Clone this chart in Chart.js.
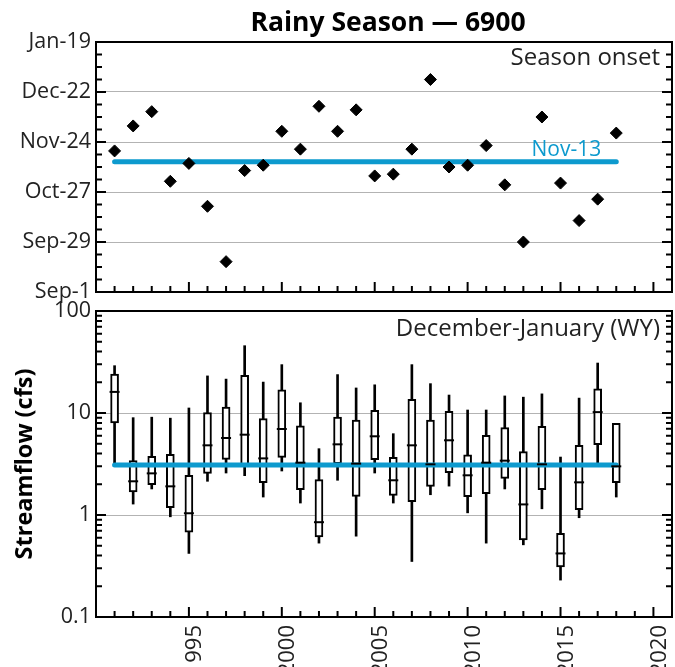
<!DOCTYPE html>
<html>
<head>
<meta charset="utf-8">
<script src="https://cdn.jsdelivr.net/npm/chart.js@4.4.0/dist/chart.umd.min.js"></script>
<style>
  body { margin: 0; background: #fff; overflow: hidden; }
  canvas { position: absolute; left: 0; }
</style>
</head>
<body>
<canvas id="onsetChart" width="675" height="310" style="top:0"></canvas>
<canvas id="flowChart" width="675" height="377" style="top:290px"></canvas>
<script>
// datos
var years = [1991, 1992, 1993, 1994, 1995, 1996, 1997, 1998, 1999, 2000,
             2001, 2002, 2003, 2004, 2005, 2006, 2007, 2008, 2009, 2010,
             2011, 2012, 2013, 2014, 2015, 2016, 2017, 2018];

// inicio de temporada, en dias desde el 1 de septiembre
var onsetDays = [79, 93, 101, 62, 72, 48, 17, 68, 71, 90,
                 80, 104, 90, 102, 65, 66, 80, 119, 70, 71,
                 82, 60, 28, 98, 61, 40, 52, 89];
var onsetTickLabels = ['Sep-1', 'Sep-29', 'Oct-27', 'Nov-24', 'Dec-22', 'Jan-19'];
var onsetMedian = 73;
var onsetMedianLabel = 'Nov-13';

// caudal diciembre-enero (cfs)
var flowMin = [3.1, 1.28, 1.8, 0.96, 0.42, 2.14, 2.58, 2.43, 1.5, 2.7,
               1.31, 0.53, 2.19, 0.62, 2.58, 1.31, 0.35, 1.58, 1.92, 1.05,
               0.53, 1.8, 0.51, 1.15, 0.23, 0.94, 3.16, 1.5];
var flowQ1 = [8.0, 1.68, 1.98, 1.18, 0.68, 2.56, 3.51, 3.07, 2.07, 3.67,
              1.77, 0.61, 3.19, 1.52, 3.49, 1.56, 1.35, 1.91, 2.6, 1.51,
              1.62, 2.29, 0.57, 1.77, 0.31, 1.13, 4.89, 2.07];
var flowMedian = [16.1, 2.14, 2.56, 1.91, 1.04, 4.82, 5.69, 6.13, 3.59, 6.97,
                  3.26, 0.85, 4.93, 3.19, 5.91, 2.19, 4.82, 3.14, 5.4, 2.45,
                  3.26, 3.41, 1.27, 3.14, 0.42, 2.09, 10.2, 3.0];
var flowQ3 = [24.1, 3.41, 3.76, 3.93, 2.45, 10.1, 11.4, 23.4, 8.8, 16.9,
              7.5, 2.22, 9.1, 8.5, 10.6, 3.67, 13.6, 8.5, 10.4, 3.9,
              6.04, 7.18, 4.18, 7.4, 0.66, 4.82, 17.3, 7.9];
var flowMax = [29.1, 9.0, 9.1, 8.9, 11.2, 23.1, 21.5, 45.7, 20.1, 29.8,
               12.6, 4.47, 23.8, 17.6, 18.9, 6.27, 29.8, 19.4, 15.0, 10.7,
               10.7, 14.7, 14.3, 15.4, 3.7, 14.0, 30.9, 7.9];
var flowOverallMedian = 3.1;
var flowTicks = [0.1, 1, 10, 100];
var yearTicks = [1995, 2000, 2005, 2010, 2015, 2020];

var BLUE = '#0d9ace';
var FONT = "'Open Sans', 'Noto Sans', sans-serif";
Chart.defaults.font.family = FONT;
Chart.defaults.color = '#222';

// marco, marcas hacia dentro y textos de cada panel
var panelDecor = {
  id: 'panelDecor',
  afterDraw: function (chart, args, opts) {
    var ctx = chart.ctx, a = chart.chartArea;
    var xs = chart.scales.x, ys = chart.scales.y;
    ctx.save();
    ctx.strokeStyle = '#000';
    ctx.lineWidth = 2;
    function hTick(py, len) {
      ctx.beginPath();
      ctx.moveTo(a.left, py); ctx.lineTo(a.left + len, py);
      ctx.moveTo(a.right, py); ctx.lineTo(a.right - len, py);
      ctx.stroke();
    }
    opts.yMinor.forEach(function (v) { hTick(ys.getPixelForValue(v), 6); });
    opts.yMajor.forEach(function (v) { hTick(ys.getPixelForValue(v), 10); });
    for (var yr = 1991; yr < xs.max; yr++) {
      var px = xs.getPixelForValue(yr);
      var len = yr % 5 === 0 ? 10 : 6;
      ctx.beginPath();
      ctx.moveTo(px, a.bottom); ctx.lineTo(px, a.bottom - len);
      ctx.stroke();
    }
    ctx.strokeRect(a.left, a.top, a.right - a.left, a.bottom - a.top);

    ctx.fillStyle = '#222';
    ctx.font = '24px ' + FONT;
    ctx.textAlign = 'right';
    ctx.textBaseline = 'middle';
    ctx.fillText(opts.text, a.right - 12, a.top + opts.textDy);

    if (opts.title) {
      ctx.fillStyle = '#000';
      ctx.font = 'bold 26.5px ' + FONT;
      ctx.textAlign = 'center';
      ctx.fillText(opts.title, (a.left + a.right) / 2 + 4, 23);
    }
    if (opts.medianLabel) {
      ctx.fillStyle = BLUE;
      ctx.font = '21px ' + FONT;
      ctx.textAlign = 'right';
      ctx.textBaseline = 'alphabetic';
      ctx.fillText(opts.medianLabel, xs.getPixelForValue(years[years.length - 1]) - 15,
                   ys.getPixelForValue(onsetMedian) - 6);
    }
    ctx.restore();
  }
};

function fixedWidth(scale) { scale.width = 96; }

// Panel superior: inicio de la temporada
var onsetMinor = [];
for (var d = 0; d <= 140; d += 7) onsetMinor.push(d);

var onsetChart = new Chart(document.getElementById('onsetChart'), {
  type: 'scatter',
  data: {
    datasets: [{
      data: years.map(function (y, i) { return { x: y, y: onsetDays[i] }; }),
      pointStyle: 'rectRot',
      pointRadius: 6,
      backgroundColor: '#000',
      borderColor: '#000',
      borderWidth: 1,
      order: 0
    }, {
      type: 'line',
      data: [{ x: years[0], y: onsetMedian }, { x: years[years.length - 1], y: onsetMedian }],
      borderColor: BLUE,
      borderWidth: 5,
      borderCapStyle: 'round',
      pointRadius: 0,
      order: 1
    }]
  },
  plugins: [panelDecor],
  options: {
    responsive: false,
    animation: false,
    layout: { autoPadding: false, padding: { top: 42, right: 3 } },
    plugins: {
      legend: { display: false },
      tooltip: { enabled: false },
      panelDecor: {
        title: 'Rainy Season \u2014 6900',
        text: 'Season onset', textDy: 16,
        yMajor: [0, 28, 56, 84, 112, 140], yMinor: onsetMinor,
        medianLabel: onsetMedianLabel
      }
    },
    scales: {
      x: {
        type: 'linear', min: 1990, max: 2021,
        ticks: { display: false },
        grid: { display: false },
        border: { display: false },
        afterFit: function (s) { s.height = 18; }
      },
      y: {
        min: 0, max: 140,
        afterBuildTicks: function (s) {
          s.ticks = onsetTickLabels.map(function (t, i) { return { value: i * 28 }; });
        },
        ticks: {
          padding: 5,
          font: { size: 21.5 },
          callback: function (v) { return onsetTickLabels[Math.round(v / 28)]; }
        },
        grid: {
          drawTicks: false,
          color: function (c) { return (c.tick && (c.tick.value === 0 || c.tick.value === 140)) ? 'rgba(0,0,0,0)' : '#b3b3b3'; }
        },
        border: { display: false },
        afterFit: fixedWidth
      }
    }
  }
});

// Panel inferior: caudal diciembre-enero
var flowMinor = [];
[0.1, 1, 10].forEach(function (dec) {
  for (var k = 2; k <= 9; k++) flowMinor.push(dec * k);
});

var flowChart = new Chart(document.getElementById('flowChart'), {
  type: 'bar',
  data: {
    datasets: [{
      type: 'line',
      data: years.map(function (y, i) { return { x: y, y: flowMedian[i] }; }),
      showLine: false,
      pointStyle: 'line',
      pointRadius: 5,
      borderColor: '#000',
      borderWidth: 2,
      order: 0
    }, {
      type: 'line',
      data: [{ x: years[0], y: flowOverallMedian }, { x: years[years.length - 1], y: flowOverallMedian }],
      borderColor: BLUE,
      borderWidth: 5,
      borderCapStyle: 'round',
      pointRadius: 0,
      order: 1
    }, {
      data: years.map(function (y, i) { return { x: y, y: [flowQ1[i], flowQ3[i]] }; }),
      backgroundColor: '#fff',
      borderColor: '#000',
      borderWidth: 2,
      borderSkipped: false,
      barThickness: 8,
      grouped: false,
      order: 2
    }, {
      data: years.map(function (y, i) { return { x: y, y: [flowMin[i], flowMax[i]] }; }),
      backgroundColor: '#000',
      borderWidth: 0,
      barThickness: 2,
      grouped: false,
      order: 3
    }]
  },
  plugins: [panelDecor],
  options: {
    responsive: false,
    animation: false,
    layout: { autoPadding: false, padding: { top: 21, right: 3 } },
    plugins: {
      legend: { display: false },
      tooltip: { enabled: false },
      panelDecor: {
        text: 'December-January (WY)', textDy: 18,
        yMajor: flowTicks, yMinor: flowMinor
      }
    },
    scales: {
      x: {
        type: 'linear', min: 1990, max: 2021, offset: false,
        afterBuildTicks: function (s) {
          s.ticks = yearTicks.map(function (v) { return { value: v }; });
        },
        ticks: {
          padding: 8,
          labelOffset: 6,
          minRotation: 90, maxRotation: 90,
          autoSkip: false,
          font: { size: 22 },
          callback: function (v) { return String(v); }
        },
        grid: { display: false, drawTicks: false },
        border: { display: false },
        afterFit: function (s) {
          s.height = 50;
          s.paddingLeft = 0;
          s.paddingRight = 0;
        }
      },
      y: {
        type: 'logarithmic', min: 0.1, max: 100,
        afterBuildTicks: function (s) {
          s.ticks = flowTicks.map(function (v) { return { value: v }; });
        },
        ticks: {
          padding: 5,
          font: { size: 21.5 },
          callback: function (v) { return String(v); }
        },
        grid: {
          drawTicks: false,
          color: function (c) { return (c.tick && (c.tick.value === 0.1 || c.tick.value === 100)) ? 'rgba(0,0,0,0)' : '#b3b3b3'; }
        },
        border: { display: false },
        title: {
          display: true,
          text: 'Streamflow (cfs)',
          color: '#000',
          font: { size: 23.5, weight: 'bold' },
          padding: { top: 11, bottom: 0 }
        },
        afterFit: fixedWidth
      }
    }
  }
});
</script>
</body>
</html>
